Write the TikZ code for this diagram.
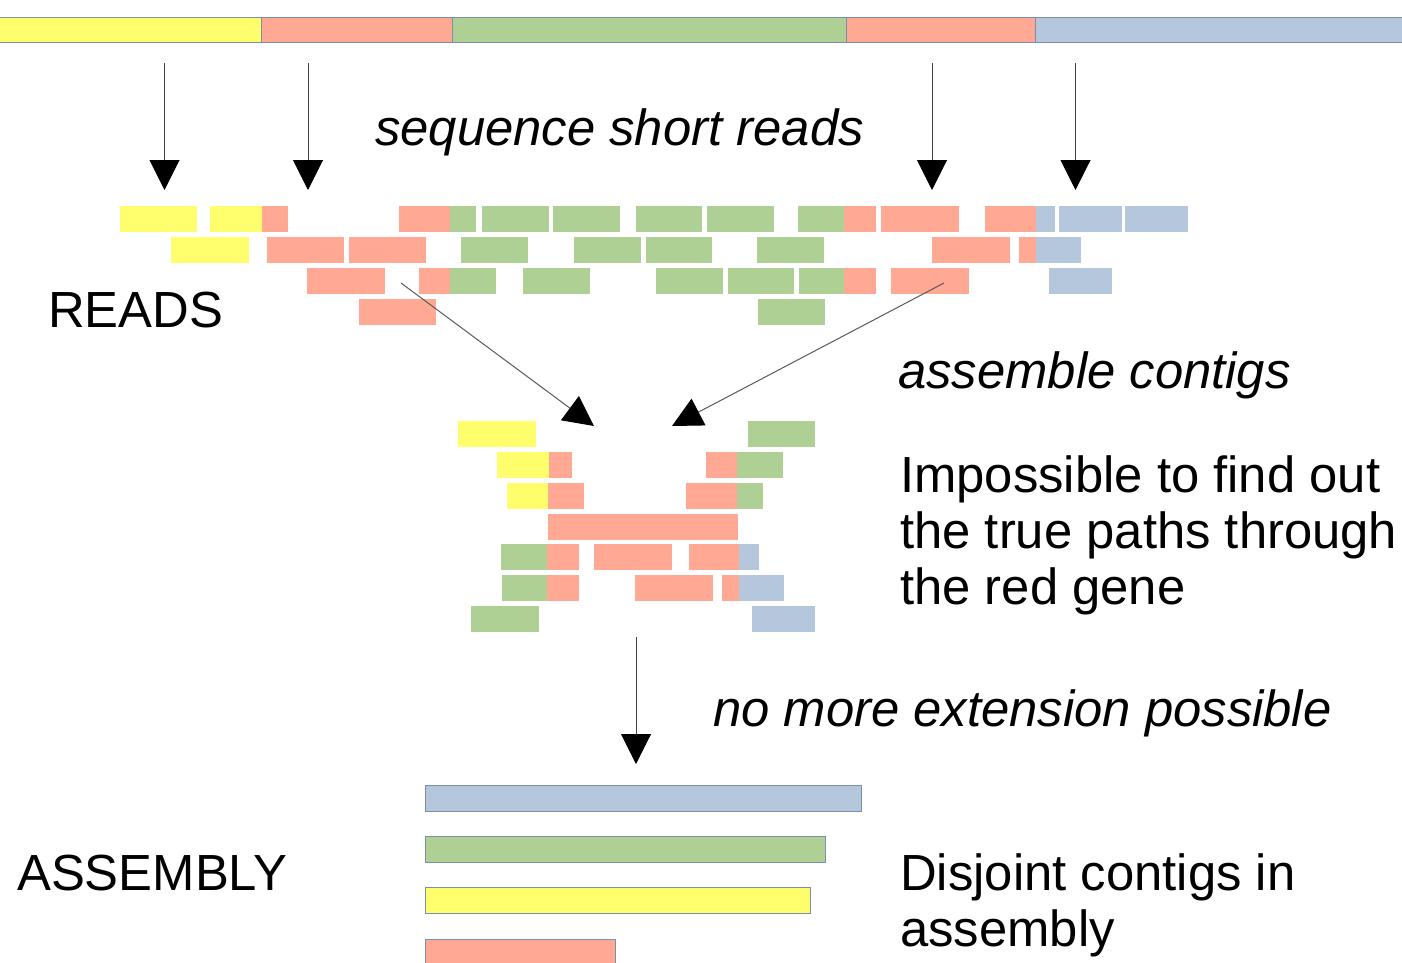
\documentclass[tikz,border=0pt]{standalone}
\usepackage{fontspec}
\setmainfont{Liberation Sans}
\usetikzlibrary{arrows.meta}
\definecolor{cyel}{HTML}{FFFF6D}
\definecolor{cred}{HTML}{FFA994}
\definecolor{cgrn}{HTML}{AFD095}
\definecolor{cblu}{HTML}{B4C7DC}
\definecolor{cout}{HTML}{7C8FA8}
\newcommand{\rdY}[4]{\fill[#1] (#2,#4) rectangle (#3,#4+26);}
\begin{document}
\begin{tikzpicture}[x=1pt,y=-1pt,
  arr/.style={draw=black!75, line width=1pt, -{Triangle[length=30pt,width=30pt,black]}},
  lbl/.style={anchor=base west, inner sep=0pt, font=\fontsize{50.8}{55.8}\selectfont, align=left},
  seg/.style={draw=cout, line width=1pt},
  contig/.style={draw=cout, line width=1pt}]
\useasboundingbox (0,0) rectangle (1402,962);
% genome bar
\filldraw[seg, fill=cyel] (-2,17) rectangle (261,42);
\filldraw[seg, fill=cred] (261,17) rectangle (452,42);
\filldraw[seg, fill=cgrn] (452,17) rectangle (846,42);
\filldraw[seg, fill=cred] (846,17) rectangle (1035,42);
\filldraw[seg, fill=cblu] (1035,17) rectangle (1404,42);
% reads row 1
\rdY{cyel}{120}{197}{206}
\rdY{cyel}{210}{262}{206}\rdY{cred}{262}{288}{206}
\rdY{cred}{399}{450}{206}\rdY{cgrn}{450}{476}{206}
\rdY{cgrn}{482}{549}{206}
\rdY{cgrn}{553}{620}{206}
\rdY{cgrn}{636}{702}{206}
\rdY{cgrn}{707}{774}{206}
\rdY{cgrn}{798}{844}{206}\rdY{cred}{844}{876}{206}
\rdY{cred}{881}{959}{206}
\rdY{cred}{985}{1036}{206}\rdY{cblu}{1036}{1055}{206}
\rdY{cblu}{1059}{1122}{206}
\rdY{cblu}{1125}{1188}{206}
% reads row 2
\rdY{cyel}{171}{249}{237}
\rdY{cred}{267}{344}{237}
\rdY{cred}{349}{426}{237}
\rdY{cgrn}{461}{528}{237}
\rdY{cgrn}{574}{641}{237}
\rdY{cgrn}{646}{712}{237}
\rdY{cgrn}{757}{824}{237}
\rdY{cred}{932}{1010}{237}
\rdY{cred}{1019}{1036}{237}\rdY{cblu}{1036}{1081}{237}
% reads row 3
\rdY{cred}{307}{385}{268}
\rdY{cred}{419}{450}{268}\rdY{cgrn}{450}{496}{268}
\rdY{cgrn}{523}{590}{268}
\rdY{cgrn}{656}{723}{268}
\rdY{cgrn}{728}{794}{268}
\rdY{cgrn}{799}{844}{268}\rdY{cred}{844}{876}{268}
\rdY{cred}{891}{969}{268}
\rdY{cblu}{1049}{1112}{268}
% reads row 4
\rdY{cred}{359}{436}{299}
\rdY{cgrn}{758}{825}{299}
% middle cluster
\rdY{cyel}{458}{536}{421}\rdY{cgrn}{748}{815}{421}
\rdY{cyel}{497}{549}{452}\rdY{cred}{549}{572}{452}
\rdY{cred}{706}{737}{452}\rdY{cgrn}{737}{783}{452}
\rdY{cyel}{507}{548}{483}\rdY{cred}{548}{584}{483}
\rdY{cred}{686}{737}{483}\rdY{cgrn}{737}{763}{483}
\rdY{cred}{548}{738}{514}
\rdY{cgrn}{501}{547}{544}\rdY{cred}{547}{579}{544}
\rdY{cred}{594}{672}{544}
\rdY{cred}{689}{739}{544}\rdY{cblu}{739}{759}{544}
\rdY{cgrn}{502}{547}{575}\rdY{cred}{547}{579}{575}
\rdY{cred}{635}{713}{575}
\rdY{cred}{722}{739}{575}\rdY{cblu}{739}{784}{575}
\rdY{cgrn}{471}{539}{606}\rdY{cblu}{752}{815}{606}
% contigs
\filldraw[contig, fill=cblu] (425,785) rectangle (861,811);
\filldraw[contig, fill=cgrn] (425,836) rectangle (825,862);
\filldraw[contig, fill=cyel] (425,887) rectangle (810,913);
\filldraw[contig, fill=cred] (425,939) rectangle (615,966);
% arrow end points
\coordinate (a1s) at (164.5,63); \coordinate (a1e) at (164.5,190);
\coordinate (a2s) at (308,63);   \coordinate (a2e) at (308,190);
\coordinate (a3s) at (932,63);   \coordinate (a3e) at (932,190);
\coordinate (a4s) at (1075.5,63);\coordinate (a4e) at (1075.5,190);
\coordinate (dls) at (401,283);  \coordinate (dle) at (594,426);
\coordinate (drs) at (944,283);  \coordinate (dre) at (672,426);
\coordinate (vs) at (636,637);   \coordinate (ve) at (636,764);
\draw[arr] (a1s) -- (a1e);
\draw[arr] (a2s) -- (a2e);
\draw[arr] (a3s) -- (a3e);
\draw[arr] (a4s) -- (a4e);
\draw[arr, draw=black!65] (dls) -- (dle);
\draw[arr, draw=black!65] (drs) -- (dre);
\draw[arr] (vs) -- (ve);
% labels
\node[lbl, font=\fontsize{50.8}{55.8}\selectfont\itshape] (tseq) at (375,145) {sequence short reads};
\node[lbl] (treads) at (48,327) {READS};
\node[lbl, font=\fontsize{50.8}{55.8}\selectfont\itshape] (tasm) at (898,388) {assemble contigs};
\node[lbl] (timp) at (900,604) {Impossible to find out\\the true paths through\\the red gene};
\node[lbl, font=\fontsize{50.8}{55.8}\selectfont\itshape] (text) at (713,726) {no more extension possible};
\node[lbl] (tassembly) at (17,890) {ASSEMBLY};
\node[lbl] (tdis) at (900,946) {Disjoint contigs in\\assembly};
\end{tikzpicture}
\end{document}
